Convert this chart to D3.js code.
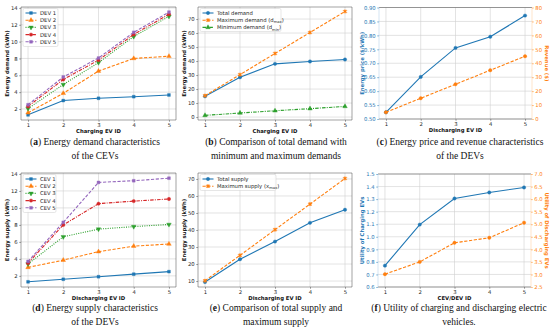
<!DOCTYPE html>
<html><head><meta charset="utf-8">
<script src="https://cdn.jsdelivr.net/npm/d3@7"></script>
<style>body{margin:0;background:#fff}text{font-family:"DejaVu Sans",sans-serif}</style>
</head><body>
<svg id="c" width="550" height="336"></svg>
<script>
// ---------- data ----------
const ids = [1, 2, 3, 4, 5];
// (a) energy demand of CEVs per DEV
const dev1Demand = [1.3, 3.0, 3.27, 3.46, 3.66];
const dev2Demand = [1.55, 3.86, 6.5, 8.0, 8.26];
const dev3Demand = [2.05, 4.9, 7.5, 10.6, 13.0];
const dev4Demand = [2.3, 5.5, 7.8, 10.85, 13.25];
const dev5Demand = [2.5, 5.8, 8.05, 11.1, 13.5];
// (b) total / max / min demand
const totalDemand = [14.8, 28.4, 38.0, 39.7, 41.1];
const maxDemand = [15.3, 30.3, 45.4, 60.4, 75.4];
const minDemand = [1.2, 2.9, 4.5, 6.0, 7.6];
// (c) price and revenue
const energyPrice = [0.524, 0.651, 0.755, 0.795, 0.871];
const revenue = [4.8, 14.9, 24.9, 35.0, 45.0];
// (d) energy supply of DEVs per CEV
const cev1Supply = [1.3, 1.6, 1.9, 2.2, 2.5];
const cev2Supply = [3.0, 3.85, 4.85, 5.5, 5.75];
const cev3Supply = [3.4, 6.6, 7.5, 7.8, 8.05];
const cev4Supply = [3.5, 8.0, 10.5, 10.8, 11.05];
const cev5Supply = [3.7, 8.3, 13.0, 13.2, 13.5];
// (e) total / max supply
const totalSupply = [9.4, 22.8, 33.2, 44.2, 51.9];
const maxSupply = [10.2, 25.1, 40.2, 55.2, 70.3];
// (f) utilities
const utilityCharging = [0.77, 1.097, 1.305, 1.353, 1.393];
const utilityDischarging = [3.01, 3.5, 4.26, 4.46, 5.06];

const ticksA = [2, 4, 6, 8, 10, 12, 14];
const ticksB = [0, 10, 20, 30, 40, 50, 60, 70];
const ticksCL = [0.50, 0.55, 0.60, 0.65, 0.70, 0.75, 0.80, 0.85, 0.90];
const ticksCR = [0, 10, 20, 30, 40, 50, 60, 70, 80];
const ticksE = [10, 20, 30, 40, 50, 60, 70];
const ticksFL = [0.6, 0.7, 0.8, 0.9, 1.0, 1.1, 1.2, 1.3, 1.4, 1.5];
const ticksFR = [2.5, 3.0, 3.5, 4.0, 4.5, 5.0, 5.5, 6.0, 6.5, 7.0];

const C = {blue:"#1f77b4", orange:"#ff7f0e", green:"#2ca02c", red:"#d62728", purple:"#9467bd"};

const svg = d3.select("#c");
const FS = 5.3;

function marker(g, type, x, y, color) {
  const sym = {s: d3.symbolSquare, "^": d3.symbolTriangle, v: d3.symbolTriangle, o: d3.symbolCircle, x: d3.symbolCross, d: d3.symbolDiamond}[type];
  const size = type === "o" ? 9 : (type === "^" || type === "v") ? 9 : 8;
  g.append("path").attr("d", d3.symbol().type(sym).size(size)())
    .attr("transform", `translate(${x},${y})` + (type === "v" ? " rotate(180)" : "") + (type === "x" ? " rotate(45)" : ""))
    .attr("fill", color).attr("stroke", color).attr("stroke-width", 0.4);
}

function panel(cfg) {
  const g = svg.append("g");
  const x = d3.scaleLinear().domain([0.8, 5.2]).range([cfg.x0, cfg.x1]);
  const y = d3.scaleLinear().domain(cfg.yDomain).range([cfg.y1, cfg.y0]);
  const yr = cfg.rDomain ? d3.scaleLinear().domain(cfg.rDomain).range([cfg.y1, cfg.y0]) : null;
  // grid
  g.selectAll(".gx").data(ids).enter().append("line")
    .attr("x1", d => x(d)).attr("x2", d => x(d)).attr("y1", cfg.y0).attr("y2", cfg.y1)
    .attr("stroke", "#d0d0d0").attr("stroke-width", 0.6);
  g.selectAll(".gy").data(cfg.yTicks).enter().append("line")
    .attr("x1", cfg.x0).attr("x2", cfg.x1).attr("y1", d => y(d)).attr("y2", d => y(d))
    .attr("stroke", "#d0d0d0").attr("stroke-width", 0.6);
  // series
  cfg.series.forEach(s => {
    const sc = s.right ? yr : y;
    const line = d3.line().x((d, i) => x(ids[i])).y(d => sc(d));
    g.append("path").attr("d", line(s.values)).attr("fill", "none")
      .attr("stroke", s.color).attr("stroke-width", 1.1).attr("stroke-dasharray", s.dash || null);
    s.values.forEach((v, i) => marker(g, s.marker, x(ids[i]), sc(v), s.color));
  });
  // frame
  const spine = "#444";
  g.append("line").attr("x1", cfg.x0).attr("x2", cfg.x1).attr("y1", cfg.y0).attr("y2", cfg.y0).attr("stroke", spine).attr("stroke-width", 0.5);
  g.append("line").attr("x1", cfg.x0).attr("x2", cfg.x1).attr("y1", cfg.y1).attr("y2", cfg.y1).attr("stroke", spine).attr("stroke-width", 0.5);
  g.append("line").attr("x1", cfg.x0).attr("x2", cfg.x0).attr("y1", cfg.y0).attr("y2", cfg.y1).attr("stroke", cfg.lColor ? "#a8cbe6" : spine).attr("stroke-width", 0.5);
  g.append("line").attr("x1", cfg.x1).attr("x2", cfg.x1).attr("y1", cfg.y0).attr("y2", cfg.y1).attr("stroke", cfg.rDomain ? "#ffc995" : spine).attr("stroke-width", 0.5);
  // x axis
  const xa = g.append("g").attr("transform", `translate(0,${cfg.y1})`)
    .call(d3.axisBottom(x).tickValues(ids).tickSize(1.8).tickPadding(1.5).tickFormat(d3.format("d")));
  xa.select(".domain").remove();
  xa.selectAll("line").attr("stroke", "#444").attr("stroke-width", 0.5);
  xa.selectAll("text").attr("font-size", FS).attr("fill", "#222");
  // y axis
  const ya = g.append("g").attr("transform", `translate(${cfg.x0},0)`)
    .call(d3.axisLeft(y).tickValues(cfg.yTicks).tickSize(1.8).tickPadding(1.5).tickFormat(cfg.yFmt));
  ya.select(".domain").remove();
  ya.selectAll("line").attr("stroke", cfg.lColor || "#444").attr("stroke-width", 0.5);
  ya.selectAll("text").attr("font-size", FS).attr("fill", cfg.lColor || "#222");
  if (yr) {
    const ra = g.append("g").attr("transform", `translate(${cfg.x1},0)`)
      .call(d3.axisRight(yr).tickValues(cfg.rTicks).tickSize(1.8).tickPadding(1.5).tickFormat(cfg.rFmt));
    ra.select(".domain").remove();
    ra.selectAll("line").attr("stroke", C.orange).attr("stroke-width", 0.5);
    ra.selectAll("text").attr("font-size", FS).attr("fill", C.orange);
    g.append("text").attr("transform", `translate(${cfg.rLabelX},${(cfg.y0 + cfg.y1) / 2}) rotate(90)`)
      .attr("text-anchor", "middle").attr("font-size", FS).attr("font-weight", "bold").attr("fill", C.orange).text(cfg.rLabel);
  }
  // labels
  g.append("text").attr("x", (cfg.x0 + cfg.x1) / 2).attr("y", cfg.y1 + 12.5).attr("text-anchor", "middle")
    .attr("font-size", FS).attr("font-weight", "bold").attr("fill", "#111").text(cfg.xLabel);
  g.append("text").attr("transform", `translate(${cfg.yLabelX},${(cfg.y0 + cfg.y1) / 2}) rotate(-90)`)
    .attr("text-anchor", "middle").attr("font-size", FS).attr("font-weight", "bold").attr("fill", cfg.lColor || "#111").text(cfg.yLabel);
  // legend
  if (cfg.legend) {
    const L = cfg.legend;
    g.append("rect").attr("x", L.x).attr("y", L.y).attr("width", L.w).attr("height", L.h).attr("rx", 1.5)
      .attr("fill", "#fff").attr("fill-opacity", 0.85).attr("stroke", "#ccc").attr("stroke-width", 0.5);
    cfg.series.forEach((s, i) => {
      const yy = L.y + 4.5 + i * L.dy;
      g.append("line").attr("x1", L.x + 2.5).attr("x2", L.x + 13.5).attr("y1", yy).attr("y2", yy)
        .attr("stroke", s.color).attr("stroke-width", 1.1).attr("stroke-dasharray", s.dash || null);
      marker(g, s.marker, L.x + 8, yy, s.color);
      const t = g.append("text").attr("x", L.x + 17).attr("y", yy + 1.9).attr("font-size", FS).attr("fill", "#222");
      t.append("tspan").text(s.label);
      if (s.sub) {
        t.append("tspan").attr("font-size", FS * 0.7).attr("dy", 1.2).text(s.sub);
        t.append("tspan").attr("dy", -1.2).text(")");
      }
    });
  }
}

const dA = "3.2,1.6", dB = "1,1.3", dC = "3.5,1.2,1,1.2";

panel({x0: 21, x1: 176, y0: 7, y1: 120, yDomain: [0.69, 14.11], yTicks: ticksA, yFmt: d3.format("d"),
  xLabel: "Charging EV ID", yLabel: "Energy demand (kWh)", yLabelX: 8.5,
  legend: {x: 23, y: 8.5, w: 35, h: 38, dy: 7.2},
  series: [
    {values: dev1Demand, color: C.blue, marker: "s", label: "DEV 1"},
    {values: dev2Demand, color: C.orange, marker: "^", dash: dA, label: "DEV 2"},
    {values: dev3Demand, color: C.green, marker: "v", dash: dB, label: "DEV 3"},
    {values: dev4Demand, color: C.red, marker: "o", dash: dC, label: "DEV 4"},
    {values: dev5Demand, color: C.purple, marker: "s", dash: dA, label: "DEV 5"}]});

panel({x0: 198, x1: 352, y0: 7, y1: 120, yDomain: [-2.1, 78.6], yTicks: ticksB, yFmt: d3.format("d"),
  xLabel: "Charging EV ID", yLabel: "Energy demand (kWh)", yLabelX: 186,
  legend: {x: 200, y: 8.5, w: 81, h: 23, dy: 7.2},
  series: [
    {values: totalDemand, color: C.blue, marker: "o", label: "Total demand"},
    {values: maxDemand, color: C.orange, marker: "x", dash: dA, label: "Maximum demand (d", sub: "max"},
    {values: minDemand, color: C.green, marker: "^", dash: dC, label: "Minimum demand (d", sub: "min"}]});

panel({x0: 379, x1: 532, y0: 7.5, y1: 119, yDomain: [0.5, 0.9], yTicks: ticksCL, yFmt: d3.format(".2f"),
  rDomain: [0, 80], rTicks: ticksCR, rFmt: d3.format("d"), rLabel: "Revenue ($)", rLabelX: 545,
  lColor: C.blue,
  xLabel: "Discharging EV ID", yLabel: "Energy price ($/kWh)", yLabelX: 364,
  series: [
    {values: energyPrice, color: C.blue, marker: "o", label: ""},
    {values: revenue, color: C.orange, marker: "o", dash: dA, right: true, label: ""}]});

panel({x0: 21, x1: 176, y0: 173, y1: 287, yDomain: [0.69, 14.11], yTicks: ticksA, yFmt: d3.format("d"),
  xLabel: "Discharging EV ID", yLabel: "Energy supply (kWh)", yLabelX: 8.5,
  legend: {x: 23, y: 174.5, w: 33, h: 38, dy: 7.2},
  series: [
    {values: cev1Supply, color: C.blue, marker: "s", label: "CEV 1"},
    {values: cev2Supply, color: C.orange, marker: "^", dash: dA, label: "CEV 2"},
    {values: cev3Supply, color: C.green, marker: "v", dash: dB, label: "CEV 3"},
    {values: cev4Supply, color: C.red, marker: "o", dash: dC, label: "CEV 4"},
    {values: cev5Supply, color: C.purple, marker: "s", dash: dA, label: "CEV 5"}]});

panel({x0: 198, x1: 352, y0: 173, y1: 287, yDomain: [6.5, 73.5], yTicks: ticksE, yFmt: d3.format("d"),
  xLabel: "Discharging EV ID", yLabel: "Energy supply (kWh)", yLabelX: 186,
  legend: {x: 200, y: 174.5, w: 76, h: 16, dy: 7.2},
  series: [
    {values: totalSupply, color: C.blue, marker: "o", label: "Total supply"},
    {values: maxSupply, color: C.orange, marker: "x", dash: dA, label: "Maximum supply (x", sub: "max"}]});

panel({x0: 378, x1: 531, y0: 174, y1: 287, yDomain: [0.6, 1.5], yTicks: ticksFL, yFmt: d3.format(".1f"),
  rDomain: [2.5, 7.0], rTicks: ticksFR, rFmt: d3.format(".1f"), rLabel: "Utility of Discharging EVs", rLabelX: 545,
  lColor: C.blue,
  xLabel: "CEV/DEV ID", yLabel: "Utility of Charging EVs", yLabelX: 364,
  series: [
    {values: utilityCharging, color: C.blue, marker: "o", label: ""},
    {values: utilityDischarging, color: C.orange, marker: "o", dash: dA, right: true, label: ""}]});

// captions
const captions = [
  {cx: 95, y: 145, l: "a", t1: ") Energy demand characteristics", t2: "of the CEVs"},
  {cx: 276, y: 145, l: "b", t1: ") Comparison of total demand with", t2: "minimum and maximum demands"},
  {cx: 460, y: 145, l: "c", t1: ") Energy price and revenue characteristics", t2: "of the DEVs"},
  {cx: 95, y: 311, l: "d", t1: ") Energy supply characteristics", t2: "of the DEVs"},
  {cx: 276, y: 311, l: "e", t1: ") Comparison of total supply and", t2: "maximum supply"},
  {cx: 459, y: 311, l: "f", t1: ") Utility of charging and discharging electric", t2: "vehicles."}];
captions.forEach(c => {
  const t = svg.append("text").attr("x", c.cx).attr("y", c.y).attr("text-anchor", "middle")
    .style("font-family", "'Liberation Serif', serif").attr("font-size", 9.5).attr("fill", "#111");
  t.append("tspan").text("(");
  t.append("tspan").attr("font-weight", "bold").text(c.l);
  t.append("tspan").text(c.t1);
  svg.append("text").attr("x", c.cx).attr("y", c.y + 13.5).attr("text-anchor", "middle")
    .style("font-family", "'Liberation Serif', serif").attr("font-size", 9.5).attr("fill", "#111").text(c.t2);
});
</script>
</body></html>
